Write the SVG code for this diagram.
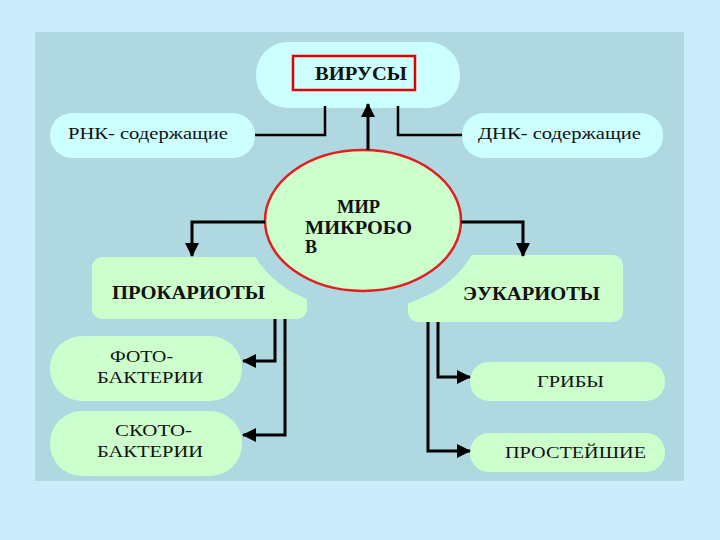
<svg xmlns="http://www.w3.org/2000/svg" width="720" height="540" viewBox="0 0 720 540">
<style>
.pc{fill:#ccffff}
.pg{fill:#ccffcc}
.t{font-family:"Liberation Serif","Times New Roman",serif;font-size:17px;fill:#111}
.b{font-weight:bold;font-size:18px}
.c{fill:none;stroke:#000;stroke-width:3}
.ct{fill:none;stroke:#000;stroke-width:2.5}
</style>
<defs>
<marker id="ah" viewBox="0 0 14 14" refX="13" refY="7" markerWidth="14" markerHeight="14" markerUnits="userSpaceOnUse" orient="auto">
<path d="M0,0 L14,7 L0,14 z" fill="#000"/>
</marker>
</defs>
<rect x="0" y="0" width="720" height="540" fill="#cbecfb"/>
<rect x="35" y="32" width="649" height="449" fill="#afd8e0"/>

<g id="viruses">
<rect class="pc" x="256" y="42" width="204" height="66" rx="32"/>
<rect x="293" y="56" width="122" height="34" fill="none" stroke="#e00000" stroke-width="2.5"/>
<text class="t b" x="315" y="80" textLength="92" lengthAdjust="spacingAndGlyphs">ВИРУСЫ</text>
</g>
<g id="rna">
<rect class="pc" x="50" y="113" width="205" height="45" rx="22"/>
<text class="t" x="68" y="139" textLength="160" lengthAdjust="spacingAndGlyphs">РНК- содержащие</text>
</g>
<g id="dna">
<rect class="pc" x="462" y="113" width="201" height="45" rx="22"/>
<text class="t" x="478" y="139" textLength="163" lengthAdjust="spacingAndGlyphs">ДНК- содержащие</text>
</g>
<g id="prokaryotes">
<rect class="pg" x="92" y="257" width="215" height="62" rx="10"/>
<text class="t b" x="112" y="299" textLength="153" lengthAdjust="spacingAndGlyphs">ПРОКАРИОТЫ</text>
</g>
<g id="eukaryotes">
<rect class="pg" x="408" y="255" width="215" height="67" rx="10"/>
<text class="t b" x="463" y="300" textLength="137" lengthAdjust="spacingAndGlyphs">ЭУКАРИОТЫ</text>
</g>
<g id="world">
<ellipse cx="363" cy="220" rx="118" ry="90" fill="#afd8e0"/>
<ellipse cx="363" cy="220.5" rx="98" ry="70.5" fill="#ccffcc" stroke="#e02020" stroke-width="2.5"/>
<text class="t b"><tspan x="337" y="213" textLength="43" lengthAdjust="spacingAndGlyphs">МИР</tspan><tspan x="305" y="234" textLength="107" lengthAdjust="spacingAndGlyphs">МИКРОБО</tspan><tspan x="305" y="253">В</tspan></text>
</g>
<g id="photobacteria">
<rect class="pg" x="50" y="336" width="192" height="65" rx="32"/>
<text class="t"><tspan x="110" y="362" textLength="63" lengthAdjust="spacingAndGlyphs">ФОТО-</tspan><tspan x="97" y="383" textLength="106" lengthAdjust="spacingAndGlyphs">БАКТЕРИИ</tspan></text>
</g>
<g id="scotobacteria">
<rect class="pg" x="50" y="411" width="192" height="65" rx="32"/>
<text class="t"><tspan x="115" y="436" textLength="77" lengthAdjust="spacingAndGlyphs">СКОТО-</tspan><tspan x="97" y="457" textLength="106" lengthAdjust="spacingAndGlyphs">БАКТЕРИИ</tspan></text>
</g>
<g id="fungi">
<rect class="pg" x="470" y="362" width="195" height="39" rx="19"/>
<text class="t" x="537" y="387" textLength="67" lengthAdjust="spacingAndGlyphs">ГРИБЫ</text>
</g>
<g id="protozoa">
<rect class="pg" x="470" y="433" width="195" height="39" rx="19"/>
<text class="t" x="505" y="458" textLength="141" lengthAdjust="spacingAndGlyphs">ПРОСТЕЙШИЕ</text>
</g>

<g id="connectors">
<path class="ct" d="M255,135 H325 V106"/>
<path class="ct" d="M398,106 V135 H462"/>
<path class="c" d="M368,150 V104" marker-end="url(#ah)"/>
<path class="c" d="M265,222 H192 V256" marker-end="url(#ah)"/>
<path class="c" d="M461,222 H523 V256" marker-end="url(#ah)"/>
<path class="c" d="M275,319 V361 H243" marker-end="url(#ah)"/>
<path class="c" d="M285,319 V435 H243" marker-end="url(#ah)"/>
<path class="c" d="M438,322 V377 H470" marker-end="url(#ah)"/>
<path class="c" d="M428,322 V451 H470" marker-end="url(#ah)"/>
</g>
</svg>
